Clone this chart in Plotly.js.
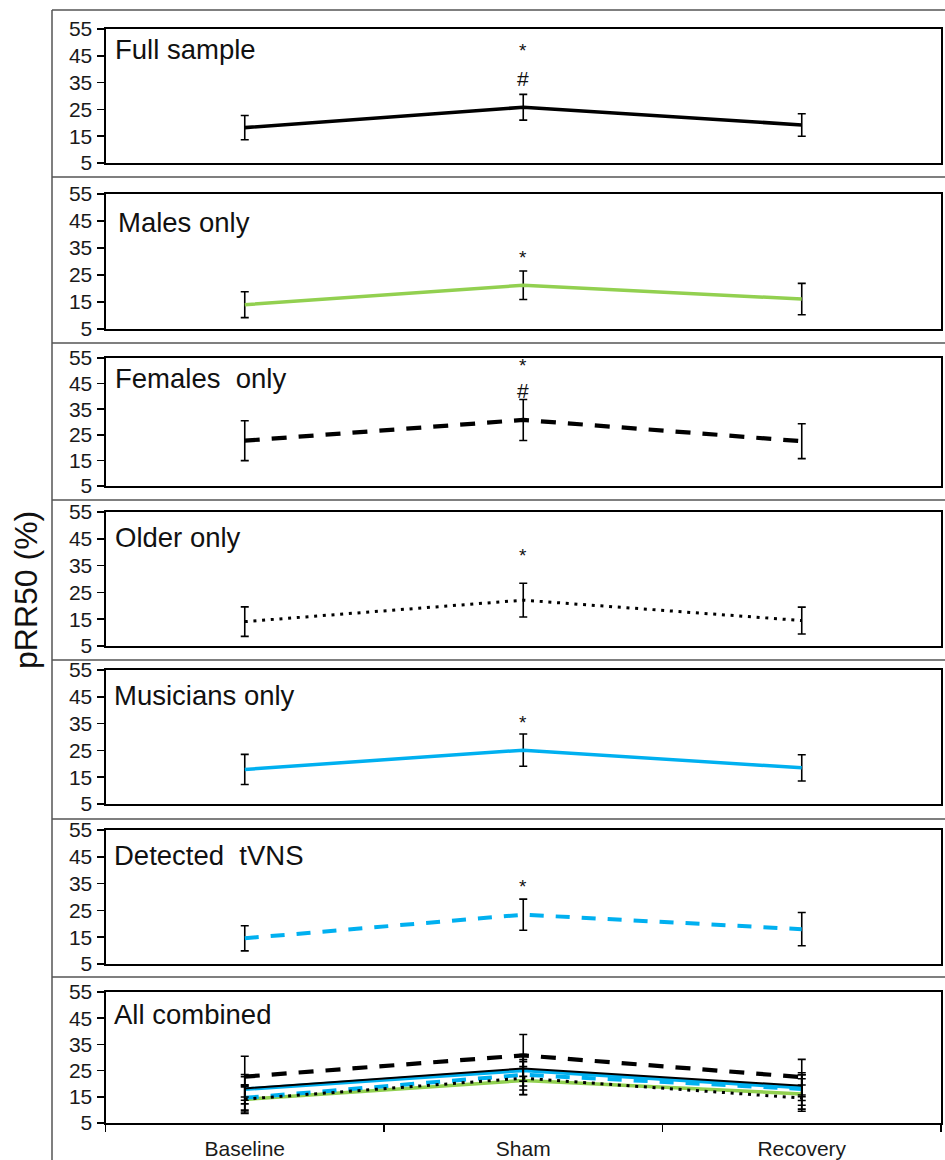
<!DOCTYPE html>
<html>
<head>
<meta charset="utf-8">
<script src="https://cdn.plot.ly/plotly-3.0.1.min.js"></script>
<style>
  html, body { margin: 0; padding: 0; background: #fff; }
  #chart { width: 945px; height: 1160px; }
</style>
</head>
<body>
<div id="chart"></div>
<script>
// ---- data ----
const categories = ['Baseline', 'Sham', 'Recovery'];
const panelLabels = ['Full sample', 'Males only', 'Females\u00A0 only', 'Older only', 'Musicians only', 'Detected\u00A0 tVNS', 'All combined'];

const fullMean = [18.2, 25.8, 19.2];
const fullErr = [4.5, 4.8, 4.2];
const malesMean = [14.0, 21.2, 16.1];
const malesErr = [4.8, 5.3, 5.8];
const femalesMean = [22.7, 30.8, 22.5];
const femalesErr = [7.8, 8.0, 6.8];
const olderMean = [14.1, 22.1, 14.5];
const olderErr = [5.5, 6.3, 5.0];
const musiciansMean = [17.9, 25.1, 18.5];
const musiciansErr = [5.6, 6.0, 4.9];
const detectedMean = [14.6, 23.4, 18.0];
const detectedErr = [4.7, 5.8, 6.2];

// significance markers at Sham, per panel (panel index 1..6)
const sigMarks = [
  {panel: 1, text: '*'}, {panel: 1, text: '#'},
  {panel: 2, text: '*'},
  {panel: 3, text: '*'}, {panel: 3, text: '#'},
  {panel: 4, text: '*'},
  {panel: 5, text: '*'},
  {panel: 6, text: '*'}
];

// ---- layout / styling ----
const W = 945, H = 1160;
const FONT = 'Liberation Sans, Arial, sans-serif';
const plotLeft = 105.5, plotRight = 941;
const panelPx = [[29, 163], [194, 329], [358, 486], [512, 646], [670, 804], [830, 964], [992, 1123]];
const labelPos = [[0.009, 0.85], [0.012, 0.79], [0.009, 0.836], [0.009, 0.81], [0.008, 0.81], [0.008, 0.81], [0.008, 0.83]];
const sigY = {'1*': 47.0, '1#': 36.7, '2*': 31.4, '3*': 52.2, '3#': 42.5, '4*': 38.7, '5*': 35.3, '6*': 33.8};
const separators = [10, 177, 343, 500, 660, 819, 977];

const GREEN = '#92D050', BLUE = '#00B0F0', BLACK = '#000000';

const series = [
  {name: 'Full sample', mean: fullMean, err: fullErr, color: BLACK, dash: 'solid', width: 3.6, cw: 2},
  {name: 'Males only', mean: malesMean, err: malesErr, color: GREEN, dash: 'solid', width: 3.5, cw: 3.5},
  {name: 'Females only', mean: femalesMean, err: femalesErr, color: BLACK, dash: '15px,12px', width: 4.2, cw: 4.2},
  {name: 'Older only', mean: olderMean, err: olderErr, color: BLACK, dash: '3px,5.7px', width: 3, cw: 3},
  {name: 'Musicians only', mean: musiciansMean, err: musiciansErr, color: BLUE, dash: 'solid', width: 3.5, cw: 3.8},
  {name: 'Detected tVNS', mean: detectedMean, err: detectedErr, color: BLUE, dash: '14px,12px', width: 4, cw: 4}
];

function axSuffix(k) { return k === 1 ? '' : String(k); }

const traces = [];
series.forEach((s, i) => {
  const k = i + 1;
  traces.push({
    type: 'scatter', mode: 'lines', x: categories, y: s.mean,
    xaxis: 'x' + axSuffix(k), yaxis: 'y' + axSuffix(k),
    line: {color: s.color, width: s.width, dash: s.dash},
    error_y: {type: 'data', array: s.err, visible: true, color: '#000', thickness: 1.6, width: 4},
    showlegend: false, hoverinfo: 'skip'
  });
});
// combined panel: draw order
const combinedOrder = [1, 4, 0, 5, 3, 2];
combinedOrder.forEach(i => {
  const s = series[i];
  traces.push({
    type: 'scatter', mode: 'lines', x: categories, y: s.mean,
    xaxis: 'x7', yaxis: 'y7',
    line: {color: s.color, width: s.cw, dash: s.dash},
    error_y: {type: 'data', array: s.err, visible: true, color: '#000', thickness: 1.6, width: 4},
    showlegend: false, hoverinfo: 'skip'
  });
});

const layout = {
  width: W, height: H,
  margin: {l: 0, r: 0, t: 0, b: 0},
  paper_bgcolor: '#fff', plot_bgcolor: '#fff',
  font: {family: FONT, color: '#000'},
  showlegend: false,
  annotations: [], shapes: []
};

panelPx.forEach((p, idx) => {
  const k = idx + 1, sfx = axSuffix(k);
  const isBottom = k === 7;
  layout['xaxis' + sfx] = {
    domain: [plotLeft / W, plotRight / W], anchor: 'y' + sfx,
    type: 'category', categoryorder: 'array', categoryarray: categories,
    range: [-0.5, 2.5], showgrid: false, zeroline: false,
    showline: true, mirror: true, linecolor: '#000', linewidth: 2,
    ticks: isBottom ? 'outside' : '', tickson: 'boundaries', ticklen: 7, tickwidth: 1.5, tickcolor: '#000',
    ticklabelstandoff: 6,
    showticklabels: isBottom, tickfont: {family: FONT, size: 21, color: '#1a1a1a'}
  };
  layout['yaxis' + sfx] = {
    domain: [1 - p[1] / H, 1 - p[0] / H], anchor: 'x' + sfx,
    range: [5, 55], tickvals: [5, 15, 25, 35, 45, 55], ticktext: ['5', '15', '25', '35', '45', '55'],
    showgrid: false, zeroline: false,
    showline: true, mirror: true, linecolor: '#000', linewidth: 2,
    ticks: 'outside', ticklen: 7, tickwidth: 1.5, tickcolor: '#000',
    tickfont: {family: FONT, size: 21, color: '#1a1a1a'}
  };
  layout.annotations.push({
    xref: 'x' + sfx + ' domain', yref: 'y' + sfx + ' domain',
    x: labelPos[idx][0], y: labelPos[idx][1], xanchor: 'left', yanchor: 'middle',
    text: panelLabels[idx], showarrow: false,
    font: {family: FONT, size: 27.5, color: '#111'}
  });
});

sigMarks.forEach(m => {
  const sfx = axSuffix(m.panel);
  layout.annotations.push({
    xref: 'x' + sfx, yref: 'y' + sfx, x: 'Sham', y: sigY[m.panel + m.text],
    text: m.text, showarrow: false, xanchor: 'center', yanchor: 'middle',
    font: {family: FONT, size: m.text === '*' ? 19 : 21, color: '#111'}
  });
});

// y-axis title
layout.annotations.push({
  xref: 'paper', yref: 'paper', x: 26 / W, y: 1 - 590 / H,
  text: 'pRR50 (%)', textangle: -90, showarrow: false,
  xanchor: 'center', yanchor: 'middle',
  font: {family: FONT, size: 32, color: '#111'}
});

// outer frame / separators
separators.forEach(y => {
  layout.shapes.push({type: 'line', xref: 'paper', yref: 'paper',
    x0: 52 / W, x1: 1, y0: 1 - y / H, y1: 1 - y / H,
    line: {color: '#555', width: 1.5}});
});
layout.shapes.push({type: 'line', xref: 'paper', yref: 'paper',
  x0: 52 / W, x1: 52 / W, y0: 1 - 10 / H, y1: 0,
  line: {color: '#555', width: 1.5}});

Plotly.newPlot('chart', traces, layout, {staticPlot: true, displayModeBar: false});
</script>
</body>
</html>
